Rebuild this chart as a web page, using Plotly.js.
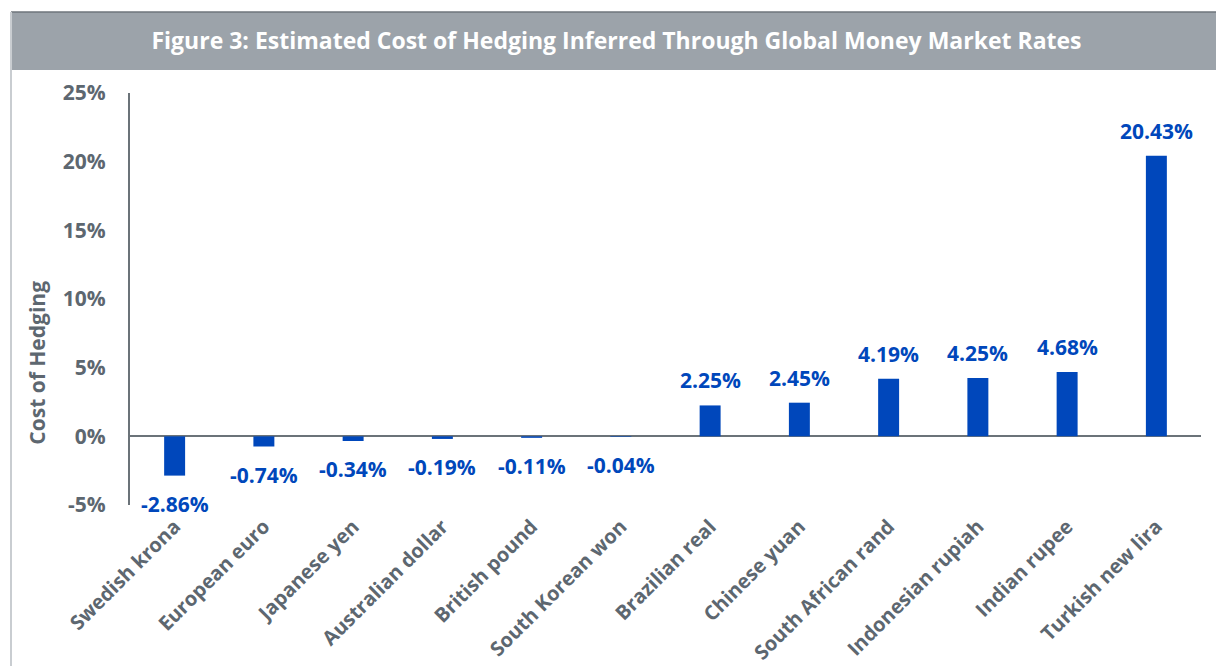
<!DOCTYPE html>
<html>
<head>
<meta charset="utf-8">
<script src="https://cdn.plot.ly/plotly-3.0.1.min.js"></script>
<style>html,body{margin:0;padding:0;background:#fff;}#chart{width:1216px;height:666px;}</style>
</head>
<body>
<div id="chart"></div>
<script>
const categories = ["Swedish krona","European euro","Japanese yen","Australian dollar","British pound","South Korean won","Brazilian real","Chinese yuan","South African rand","Indonesian rupiah","Indian rupee","Turkish new lira"];
const values = [-2.86,-0.74,-0.34,-0.19,-0.11,-0.04,2.25,2.45,4.19,4.25,4.68,20.43];
const yTicks = [-5,0,5,10,15,20,25];
const titleText = "Figure 3: Estimated Cost of Hedging Inferred Through Global Money Market Rates";
const yTitle = "Cost of Hedging";

const BLUE = "#0047BB", GRAY = "#5d6770", FONT = "'Open Sans', sans-serif";

const annotations = categories.map((c, i) => ({
  x: c, y: values[i], xref: "x", yref: "y",
  text: values[i].toFixed(2) + "%", showarrow: false,
  yanchor: values[i] >= 0 ? "bottom" : "top",
  yshift: values[i] >= 0 ? 9 : -12,
  font: {family: FONT, size: 21, color: BLUE, weight: 700}
}));
annotations.push({
  text: yTitle, xref: "paper", yref: "paper", x: -0.087, y: 0.345,
  textangle: -90, showarrow: false, xanchor: "center", yanchor: "middle",
  font: {family: FONT, size: 21, color: GRAY, weight: 700}
});

const trace = {
  type: "bar", x: categories, y: values,
  marker: {color: BLUE, line: {width: 0}},
  width: 0.235, hoverinfo: "skip"
};

const layout = {
  width: 1216, height: 666,
  margin: {l: 130, r: 15, t: 93, b: 161},
  paper_bgcolor: "#fff", plot_bgcolor: "#fff",
  showlegend: false,
  font: {family: FONT, color: GRAY},
  title: {text: titleText, x: 0.507, xref: "container", y: 0.938, yref: "container", xanchor: "center", yanchor: "middle",
          font: {family: FONT, size: 23, color: "#ffffff", weight: 700}},
  xaxis: {
    type: "category", tickangle: -45, showgrid: false, showline: false, zeroline: false,
    ticks: "", tickfont: {family: FONT, size: 20, color: GRAY, weight: 700},
    ticklabelstandoff: 5, fixedrange: true
  },
  yaxis: {
    range: [-5, 25], tickvals: yTicks, ticktext: yTicks.map(v => v + "%"),
    showgrid: false, showline: true, linecolor: "#6b7379", linewidth: 2,
    zeroline: true, zerolinecolor: "#6b7379", zerolinewidth: 2,
    ticks: "", ticklabelstandoff: 18,
    tickfont: {family: FONT, size: 21, color: GRAY, weight: 700}, fixedrange: true
  },
  shapes: [
    {type: "rect", xref: "paper", yref: "paper", x0: -0.1111, x1: 1.015, y0: 1.0558, y1: 1.1966,
     fillcolor: "#9ca3aa", line: {width: 0}, layer: "below"},
    {type: "line", xref: "paper", yref: "paper", x0: -0.1111, x1: 1.015, y0: 1.1966, y1: 1.1966,
     line: {color: "#6e757b", width: 1.5}},
    {type: "line", xref: "paper", yref: "paper", x0: -0.1111, x1: -0.1111, y0: -0.4, y1: 1.1966,
     line: {color: "#c9cdd1", width: 2}}
  ],
  annotations: annotations
};

Plotly.newPlot("chart", [trace], layout, {displayModeBar: false, staticPlot: true});
</script>
</body>
</html>
